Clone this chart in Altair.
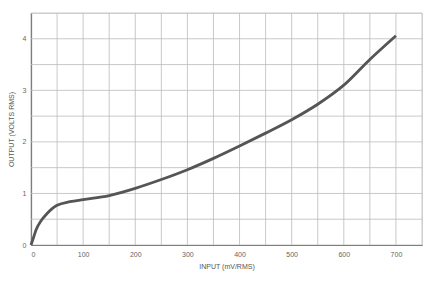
import altair as alt
import pandas as pd

input_mv = [0, 5, 10, 20, 30, 40, 50, 75, 100, 150, 200, 250, 300, 350, 400, 450, 500, 550, 600, 650, 700]
output_v = [0, 0.15, 0.3, 0.48, 0.6, 0.7, 0.77, 0.84, 0.88, 0.96, 1.1, 1.27, 1.46, 1.68, 1.92, 2.17, 2.43, 2.73, 3.1, 3.6, 4.06]
x_ticks = [0, 100, 200, 300, 400, 500, 600, 700]
y_ticks = [0, 1, 2, 3, 4]
x_grid = [0, 50, 100, 150, 200, 250, 300, 350, 400, 450, 500, 550, 600, 650, 700, 750]
y_grid = [0, 0.5, 1, 1.5, 2, 2.5, 3, 3.5, 4, 4.5]

df = pd.DataFrame({"input": input_mv, "output": output_v})

x_scale = alt.Scale(domain=[0, 750], nice=False)
y_scale = alt.Scale(domain=[0, 4.5], nice=False)

x_axis = alt.Axis(title="INPUT (mV/RMS)", values=x_ticks, grid=False, ticks=False,
                  domainColor="#555555", domainWidth=1.2,
                  labelFontSize=7, labelColor="#666666", titleFontSize=7, titleColor="#555555",
                  titleFontWeight="normal", labelPadding=5, titlePadding=5)
y_axis = alt.Axis(title="OUTPUT (VOLTS RMS)", values=y_ticks, grid=False, ticks=False,
                  domainColor="#555555", domainWidth=1.2,
                  labelFontSize=7, labelColor="#666666", titleFontSize=7, titleColor="#555555",
                  titleFontWeight="normal", labelPadding=5, titlePadding=8)

vgrid = alt.Chart(pd.DataFrame({"input": x_grid})).mark_rule(color="#bbbbbb", strokeWidth=0.8).encode(
    x=alt.X("input:Q", scale=x_scale, axis=x_axis))
hgrid = alt.Chart(pd.DataFrame({"output": y_grid})).mark_rule(color="#bbbbbb", strokeWidth=0.8).encode(
    y=alt.Y("output:Q", scale=y_scale, axis=y_axis))

line = alt.Chart(df).mark_line(color="#555555", strokeWidth=2.8, interpolate="monotone").encode(
    x=alt.X("input:Q", scale=x_scale, axis=x_axis),
    y=alt.Y("output:Q", scale=y_scale, axis=y_axis),
)

chart = alt.layer(vgrid, hgrid, line).properties(
    width=391, height=232,
    autosize=alt.AutoSizeParams(type="none"),
    padding={"left": 31, "top": 13, "right": 19, "bottom": 37},
).configure_view(stroke="#888888", strokeWidth=1).configure(font="Liberation Sans")

chart.save("out.html", embed_options={"renderer": "svg", "actions": False})
